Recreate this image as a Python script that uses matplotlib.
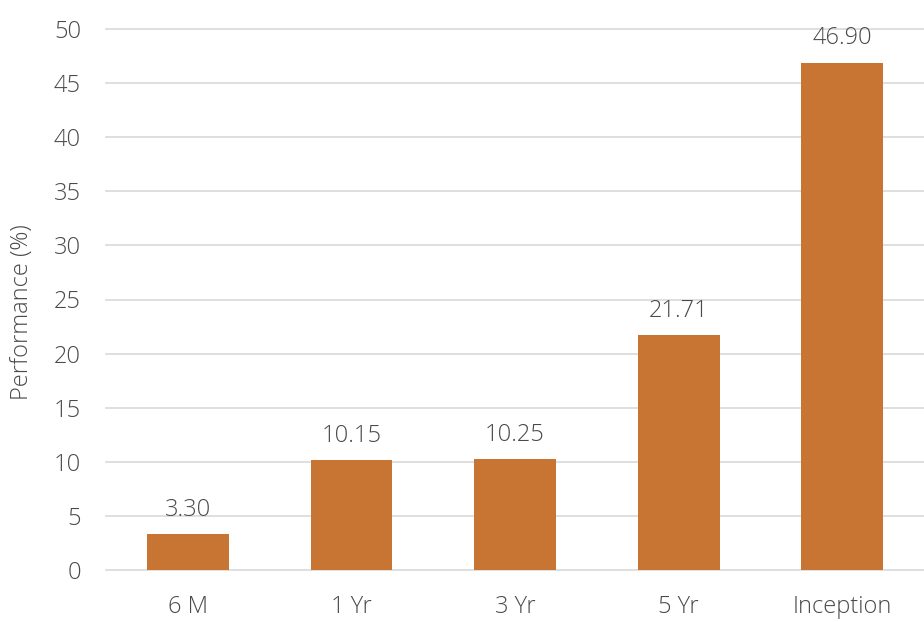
import matplotlib
matplotlib.use("Agg")
import matplotlib.pyplot as plt

categories = ["6 M", "1 Yr", "3 Yr", "5 Yr", "Inception"]
values = [3.30, 10.15, 10.25, 21.71, 46.90]
yticks = [0, 5, 10, 15, 20, 25, 30, 35, 40, 45, 50]

plt.rcParams['font.family'] = ['Open Sans', 'DejaVu Sans']
plt.rcParams['font.weight'] = 'light'
text_color = '#4a4a4a'
fs = 17

fig = plt.figure(figsize=(9.24, 6.22), dpi=100)
ax = fig.add_axes([106/924, 52/622, 1 - 106/924, 541/622])
x = range(len(categories))
bars = ax.bar(x, values, width=0.5, color='#C87432', zorder=3)
ax.set_xlim(-0.5, len(categories) - 0.5)
ax.set_ylim(0, 50)
ax.set_yticks(yticks)
ax.set_xticks(list(x))
ax.set_xticklabels(categories)
for s in ax.spines.values():
    s.set_visible(False)
ax.grid(axis='y', color='#D9D9D9', linewidth=1.2, zorder=0)
for line in ax.get_ygridlines():
    line.set_clip_on(False)
ax.tick_params(axis='both', length=0, labelsize=fs, colors=text_color)
ax.tick_params(axis='y', pad=18)
ax.tick_params(axis='x', pad=18)
fig.text(22/924, 1 - 312/622, "Performance (%)", rotation=90, ha='center', va='center',
         fontsize=fs, color=text_color)
for b, v in zip(bars, values):
    ax.annotate(f"{v:.2f}", (b.get_x() + b.get_width()/2, v), xytext=(0, 13),
                textcoords='offset points', ha='center', va='baseline',
                fontsize=fs, color=text_color)
fig.savefig("out.png", dpi=100)
